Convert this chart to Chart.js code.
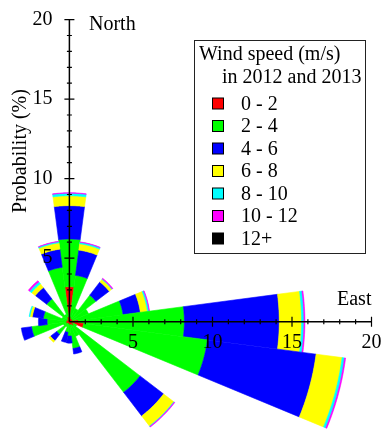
<!DOCTYPE html>
<html>
<head>
<meta charset="utf-8">
<script src="https://cdn.jsdelivr.net/npm/chart.js@4.4.0/dist/chart.umd.min.js"></script>
<style>
  html, body { margin: 0; padding: 0; background: #fff; }
  #wrap { width: 382px; height: 429px; }
</style>
</head>
<body>
<div id="wrap"><canvas id="rose" width="382" height="429"></canvas></div>
<script>
// sector centres, degrees clockwise from north
const directions = [0, 15, 30, 45, 60, 75, 90, 105, 120, 135, 150, 165,
                    180, 195, 210, 225, 240, 255, 270, 285, 300, 315, 330, 345];
const sectorWidth = 15;

// radial thickness of each speed band for every direction (axis units, %)
const speed0to2   = [2.2, 0.3, 0.2, 0.2, 0.2, 0.2, 0.55, 0.9, 0.15, 0.3, 0.2, 0.2,
                     0.2, 0.15, 0.1, 0.15, 0.1, 0.2, 0.2, 0.2, 0.1, 0.2, 0.1, 0.3];
const speed2to4   = [3.0, 2.64, 0.7, 1.9, 1.1, 3.2, 6.68, 7.86, 0.35, 5.3, 0.8, 1.5,
                     0.7, 0.52, 0.25, 0.85, 0.3, 2.2, 1.2, 1.45, 0.4, 1.6, 0.4, 3.15];
const speed4to6   = [2.1, 1.6, 0, 1.05, 0, 1.1, 5.97, 6.89, 0, 1.87, 0, 0.35,
                     0.45, 0.65, 0, 0.5, 0, 0.65, 0.55, 0.7, 0, 0.9, 0, 1.15];
const speed6to8   = [0.62, 0.4, 0, 0.2, 0, 0.45, 1.4, 1.65, 0, 0.8, 0, 0,
                     0, 0, 0, 0.13, 0, 0, 0, 0.15, 0, 0.3, 0, 0.4];
const speed8to10  = [0.16, 0.1, 0, 0.04, 0, 0.1, 0.15, 0.15, 0, 0.04, 0, 0,
                     0, 0, 0, 0, 0, 0, 0, 0.05, 0, 0.15, 0, 0.08];
const speed10to12 = [0.03, 0.02, 0, 0.05, 0, 0.03, 0.06, 0.07, 0, 0.04, 0, 0,
                     0, 0, 0, 0, 0, 0, 0, 0, 0, 0.1, 0, 0.02];
const speed12plus = [0, 0, 0, 0, 0, 0, 0, 0, 0, 0, 0, 0,
                     0, 0, 0, 0, 0, 0, 0, 0, 0, 0, 0, 0];

const speedBins = ['0 - 2', '2 - 4', '4 - 6', '6 - 8', '8 - 10', '10 - 12', '12+'];
const binColors = ['#ff0000', '#00ff00', '#0000ff', '#ffff00', '#00ffff', '#ff00ff', '#000000'];
const bandValues = [speed0to2, speed2to4, speed4to6, speed6to8, speed8to10, speed10to12, speed12plus];

// radial axis: the centre of the rose sits at 1 %, ticks every 1 %
const axisStart = 1;
const axisMax = 20;
const majorTicks = [5, 10, 15, 20];

const FONT = '20px "Liberation Serif", "Times New Roman", serif';

const rosePlugin = {
    id: 'windRose',
    beforeDatasetsDraw(chart) {
        const { ctx, scales: { x, y } } = chart;
        const toPx = (r, deg) => {
            const a = deg * Math.PI / 180;
            return [x.getPixelForValue(r * Math.sin(a)), y.getPixelForValue(r * Math.cos(a))];
        };
        const steps = 24;
        ctx.save();
        directions.forEach((dir, i) => {
            let inner = 0;
            const a0 = dir - sectorWidth / 2;
            const a1 = dir + sectorWidth / 2;
            chart.data.datasets.forEach(ds => {
                const v = ds.bands[i];
                if (!v) return;
                const outer = inner + v;
                ctx.beginPath();
                for (let k = 0; k <= steps; k++) {
                    const p = toPx(outer, a0 + (a1 - a0) * k / steps);
                    k ? ctx.lineTo(p[0], p[1]) : ctx.moveTo(p[0], p[1]);
                }
                for (let k = steps; k >= 0; k--) {
                    const p = toPx(inner, a0 + (a1 - a0) * k / steps);
                    ctx.lineTo(p[0], p[1]);
                }
                ctx.closePath();
                ctx.fillStyle = ds.backgroundColor;
                ctx.strokeStyle = ds.backgroundColor;
                ctx.lineWidth = 0.6;
                ctx.fill();
                ctx.stroke();
                inner = outer;
            });
        });
        ctx.restore();
    },
    afterDraw(chart) {
        const { ctx, scales: { x, y } } = chart;
        const cx = x.getPixelForValue(0);
        const cy = y.getPixelForValue(0);
        const xEnd = x.getPixelForValue(axisMax - axisStart);
        const yEnd = y.getPixelForValue(axisMax - axisStart);

        ctx.save();
        ctx.strokeStyle = '#000';
        ctx.lineWidth = 1.5;
        ctx.beginPath();
        ctx.moveTo(cx, cy);
        ctx.lineTo(xEnd, cy);
        ctx.moveTo(cx, cy);
        ctx.lineTo(cx, yEnd);
        ctx.stroke();

        ctx.lineWidth = 1.2;
        for (let v = axisStart + 1; v <= axisMax; v++) {
            const len = majorTicks.includes(v) ? 5 : 2.5;
            const tx = x.getPixelForValue(v - axisStart);
            const ty = y.getPixelForValue(v - axisStart);
            ctx.beginPath();
            ctx.moveTo(tx, cy - len);
            ctx.lineTo(tx, cy + len);
            ctx.moveTo(cx - len, ty);
            ctx.lineTo(cx + len, ty);
            ctx.stroke();
        }

        ctx.fillStyle = '#000';
        ctx.font = FONT;
        majorTicks.forEach(v => {
            ctx.textAlign = 'center';
            ctx.textBaseline = 'middle';
            ctx.fillText(String(v), x.getPixelForValue(v - axisStart), cy + 21);
            ctx.textAlign = 'right';
            ctx.fillText(String(v), cx - 17, y.getPixelForValue(v - axisStart));
        });

        ctx.textAlign = 'left';
        ctx.fillText('North', 89, 25);
        ctx.fillText('East', 337, 300);

        ctx.save();
        ctx.translate(21, 151);
        ctx.rotate(-Math.PI / 2);
        ctx.textAlign = 'center';
        ctx.fillText('Probability (%)', 0, 0);
        ctx.restore();

        // legend box
        const bx = 194, by = 40, bw = 171, bh = 213;
        ctx.fillStyle = '#fff';
        ctx.fillRect(bx, by, bw, bh);
        ctx.strokeStyle = '#222';
        ctx.lineWidth = 1;
        ctx.strokeRect(bx + 0.5, by + 0.5, bw, bh);
        ctx.fillStyle = '#000';
        ctx.textAlign = 'left';
        ctx.fillText('Wind speed (m/s)', 199, 55);
        ctx.fillText('in 2012 and 2013', 222, 78);
        chart.data.datasets.forEach((ds, i) => {
            const ry = 103.5 + i * 22.5;
            ctx.fillStyle = ds.backgroundColor;
            ctx.fillRect(212.5, ry - 5.5, 11, 11);
            ctx.strokeStyle = '#000';
            ctx.strokeRect(212.5, ry - 5.5, 11, 11);
            ctx.fillStyle = '#000';
            ctx.fillText(ds.label, 241, ry + 1);
        });
        ctx.restore();
    }
};

const pxPerUnit = 15.9;
const centreX = 69.4, centreY = 321.7;

new Chart(document.getElementById('rose'), {
    type: 'scatter',
    data: {
        datasets: speedBins.map((label, i) => ({
            label: label,
            data: [],
            bands: bandValues[i],
            backgroundColor: binColors[i]
        }))
    },
    options: {
        responsive: false,
        devicePixelRatio: 1,
        animation: false,
        layout: { padding: 0 },
        plugins: { legend: { display: false }, tooltip: { enabled: false } },
        scales: {
            x: { type: 'linear', display: false, min: -centreX / pxPerUnit, max: (382 - centreX) / pxPerUnit },
            y: { type: 'linear', display: false, min: -(429 - centreY) / pxPerUnit, max: centreY / pxPerUnit }
        }
    },
    plugins: [rosePlugin]
});
</script>
</body>
</html>
